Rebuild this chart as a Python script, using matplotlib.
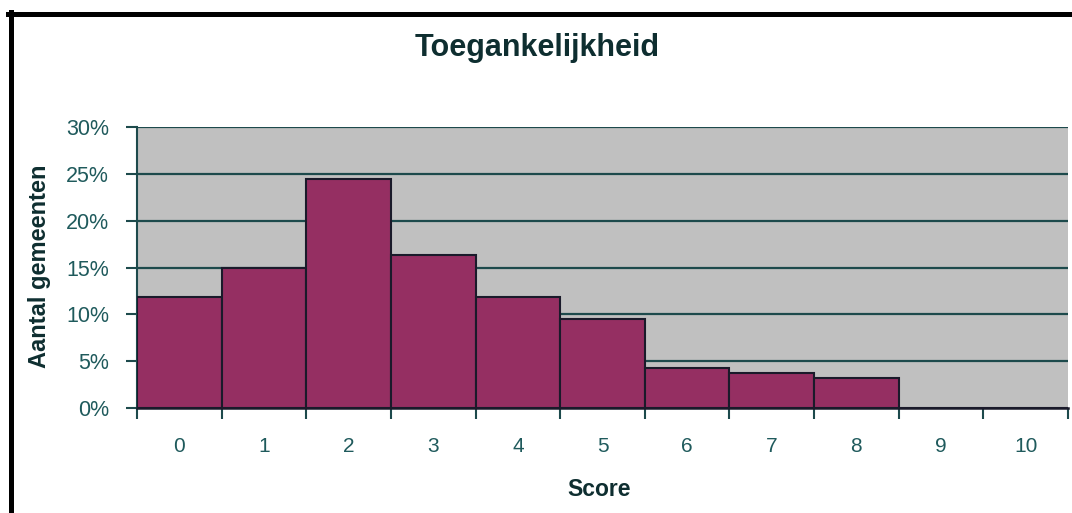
import matplotlib
matplotlib.use('Agg')
import matplotlib.pyplot as plt
from matplotlib.lines import Line2D
from matplotlib.ticker import FixedLocator, PercentFormatter

# data
scores = [0, 1, 2, 3, 4, 5, 6, 7, 8, 9, 10]
share = [11.8, 15.0, 24.5, 16.3, 11.8, 9.5, 4.3, 3.7, 3.2, 0.0, 0.0]
y_ticks = [0, 5, 10, 15, 20, 25, 30]

title = 'Toegankelijkheid'
x_label = 'Score'
y_label = 'Aantal gemeenten'

bar_col = '#952f62'
grid_col = '#1d4a4c'
text_col = '#1f5a5c'
dark_text = '#0e2e30'

plt.rcParams['font.family'] = ['Liberation Sans', 'DejaVu Sans']

fig = plt.figure(figsize=(10.72, 5.13), dpi=100)
ax = fig.add_axes([137/1072, 1 - 408/513, (1068 - 137)/1072, (408 - 127)/513])
ax.set_facecolor('#c0c0c0')

ax.bar(scores, share, width=1.0, color=bar_col, edgecolor='#1a1a2a', linewidth=1.5, zorder=3)

ax.set_xlim(-0.5, 10.5)
ax.set_ylim(0, 30)
ax.yaxis.set_major_locator(FixedLocator(y_ticks))
ax.yaxis.set_major_formatter(PercentFormatter(decimals=0))
for y in y_ticks[1:]:
    ax.axhline(y, color=grid_col, linewidth=1.6, zorder=2)

# ticks at the category boundaries, labels in the middle
ax.set_xticks([s - 0.5 for s in scores] + [scores[-1] + 0.5])
ax.set_xticklabels([])
ax.set_xticks(scores, minor=True)
ax.set_xticklabels([str(s) for s in scores], minor=True)
ax.tick_params(axis='x', which='major', length=8, width=1.5, color=grid_col, direction='out')
ax.tick_params(axis='x', which='minor', length=0, pad=21, labelsize=15, labelcolor=text_col)
ax.tick_params(axis='y', length=8, width=1.5, color=grid_col, pad=12, labelsize=15.5, labelcolor=text_col)

for s in ['top', 'right']:
    ax.spines[s].set_visible(False)
ax.spines['left'].set_color(grid_col)
ax.spines['left'].set_linewidth(1.5)
ax.spines['bottom'].set_color('#1a1a2a')
ax.spines['bottom'].set_linewidth(1.8)
ax.spines['bottom'].set_zorder(4)

fig.text(537/1072, 1 - 48/513, title, ha='center', va='center', fontsize=22,
         fontweight='bold', color=dark_text)
fig.text(599/1072, 1 - 489/513, x_label, ha='center', va='center', fontsize=16.5,
         fontweight='bold', color=dark_text)
fig.text(40/1072, 1 - 266/513, y_label, ha='center', va='center', rotation=90,
         fontsize=17, fontweight='bold', color=dark_text)

# black frame on top and left
fig.add_artist(Line2D([8/1072, 1.0], [1 - 14/513, 1 - 14/513], transform=fig.transFigure,
                      color='black', linewidth=3.6))
fig.add_artist(Line2D([10.5/1072, 10.5/1072], [1 - 12/513, 0.0], transform=fig.transFigure,
                      color='black', linewidth=3.6))

fig.savefig('out.png', dpi=100)
